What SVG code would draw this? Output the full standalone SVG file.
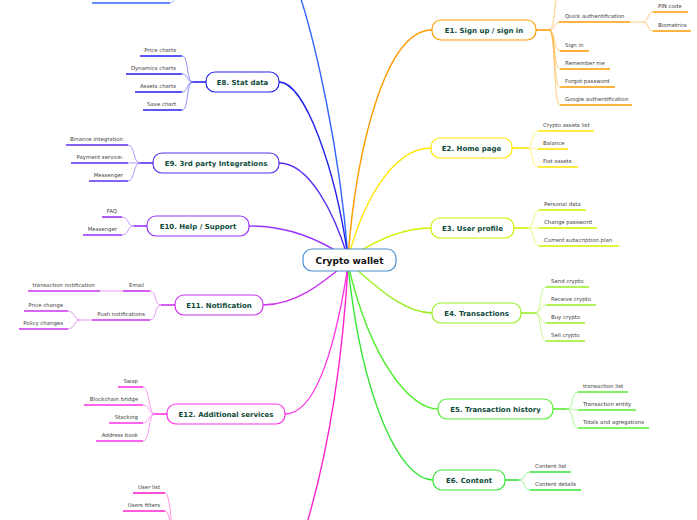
<svg xmlns="http://www.w3.org/2000/svg" width="697" height="520" viewBox="0 0 697 520">
<style>
.bg{fill:#ffffff}
.nr{fill:#ffffff;stroke-width:1.2}
.nt{font-family:"DejaVu Sans","Verdana",sans-serif;font-weight:bold;font-size:7px;fill:#0d4a3a;text-anchor:middle}
.ct{font-family:"DejaVu Sans","Verdana",sans-serif;font-size:5.4px;fill:#444444}
.ce{text-anchor:end}
.m{fill:none;stroke-width:1.4;stroke-linecap:round}
.s{fill:none;stroke-width:1.6}
.k{fill:none;stroke-width:0.9;stroke-opacity:0.55}
.u{fill:none;stroke-width:1.6}
</style>
<rect class="bg" x="0" y="0" width="697" height="520"/>
<g id="connectors">
  <path class="m" stroke="#3366ff" d="M348,258 C340,150 315,40 298,-10"/>
  <path class="m" stroke="#2222ee" d="M348,258 C336,170 305,82 279,82"/>
  <path class="m" stroke="#5b2ff0" d="M348,258 C335,215 310,163 279,163"/>
  <path class="m" stroke="#9933ff" d="M348,258 C320,240 290,226 249,226"/>
  <path class="m" stroke="#cc33ee" d="M348,262 C320,285 295,305 263,305"/>
  <path class="m" stroke="#ff33e6" d="M348,266 C338,330 320,414 285,414"/>
  <path class="m" stroke="#ff22cc" d="M348,266 C340,400 320,490 295,560"/>
  <path class="m" stroke="#ff9b00" d="M348,258 C356,150 385,30 432,30"/>
  <path class="m" stroke="#ffe600" d="M348,258 C368,185 400,148 431,148"/>
  <path class="m" stroke="#d4f000" d="M348,259 C378,238 405,228 431,228"/>
  <path class="m" stroke="#99ee22" d="M348,262 C380,290 405,313 432,313"/>
  <path class="m" stroke="#55ee33" d="M348,264 C370,360 410,409 438,409"/>
  <path class="m" stroke="#33e633" d="M348,266 C362,400 400,480 433,480"/>
</g>
<g id="center">
  <rect x="303" y="249" width="93" height="22" rx="9" fill="#ffffff" stroke="#4a90d0" stroke-width="1.2"/>
  <text x="349.5" y="263.5" font-family="DejaVu Sans, Verdana, sans-serif" font-weight="bold" font-size="9" fill="#111111" text-anchor="middle">Crypto wallet</text>
</g>
<g id="e1">
  <path class="s" stroke="#ff9b00" d="M536,30 H549"/>
  <g stroke="#ff9b00">
    <path class="k" d="M549,30 C556,30 553,-6 560,-6"/>
    <path class="k" d="M549,30 C556,30 553,22 560,22"/>
    <path class="k" d="M549,30 C556,30 553,51 560,51"/>
    <path class="k" d="M549,30 C556,30 553,69 560,69"/>
    <path class="k" d="M549,30 C556,30 553,87 560,87"/>
    <path class="k" d="M549,30 C556,30 553,105 560,105"/>
    <path class="k" d="M630,22 H643"/>
    <path class="k" d="M643,22 C649,22 647,12 653,12"/>
    <path class="k" d="M643,22 C649,22 647,31 653,31"/>
    <path class="u" d="M559,22 H630"/>
    <path class="u" d="M560,51 H589"/>
    <path class="u" d="M560,69 H610"/>
    <path class="u" d="M560,87 H615"/>
    <path class="u" d="M560,105 H632"/>
    <path class="u" d="M653,12 H688"/>
    <path class="u" d="M653,31 H691"/>
  </g>
  <rect class="nr" stroke="#ff9b00" x="432" y="20" width="104" height="20" rx="9"/>
  <text class="nt" x="484" y="32.5">E1. Sign up / sign in</text>
  <text class="ct" x="565" y="17.5">Quick authentification</text>
  <text class="ct" x="658" y="7.5">PIN code</text>
  <text class="ct" x="658" y="26.5">Biometrics</text>
  <text class="ct" x="565" y="46.5">Sign in</text>
  <text class="ct" x="565" y="64.5">Remember me</text>
  <text class="ct" x="565" y="82.5">Forgot password</text>
  <text class="ct" x="565" y="100.5">Google authentification</text>
</g>
<g id="e2">
  <path class="s" stroke="#ffe600" d="M512,148 H527"/>
  <g stroke="#ffe600">
    <path class="k" d="M527,148 C534,148 531,131 538,131"/>
    <path class="k" d="M527,148 C534,148 531,149 538,149"/>
    <path class="k" d="M527,148 C534,148 531,167 538,167"/>
    <path class="u" d="M538,131 H594"/>
    <path class="u" d="M538,149 H568"/>
    <path class="u" d="M538,167 H578"/>
  </g>
  <rect class="nr" stroke="#ffe600" x="431" y="138" width="81" height="20" rx="9"/>
  <text class="nt" x="471.5" y="150.5">E2. Home page</text>
  <text class="ct" x="543" y="126.5">Crypto assets list</text>
  <text class="ct" x="543" y="144.5">Balance</text>
  <text class="ct" x="543" y="162.5">Fiat assets</text>
</g>
<g id="e3">
  <path class="s" stroke="#d4f000" d="M514,228 H528"/>
  <g stroke="#d4f000">
    <path class="k" d="M528,228 C535,228 532,210 539,210"/>
    <path class="k" d="M528,228 H539"/>
    <path class="k" d="M528,228 C535,228 532,246 539,246"/>
    <path class="u" d="M539,210 H586"/>
    <path class="u" d="M539,228 H597"/>
    <path class="u" d="M539,246 H619"/>
  </g>
  <rect class="nr" stroke="#d4f000" x="431" y="218" width="83" height="20" rx="9"/>
  <text class="nt" x="472.5" y="230.5">E3. User profile</text>
  <text class="ct" x="544" y="205.5">Personal data</text>
  <text class="ct" x="544" y="223.5">Change password</text>
  <text class="ct" x="544" y="241.5">Current subscription plan</text>
</g>
<g id="e4">
  <path class="s" stroke="#99ee22" d="M521,313 H535"/>
  <g stroke="#99ee22">
    <path class="k" d="M535,313 C542,313 539,287 546,287"/>
    <path class="k" d="M535,313 C542,313 539,305 546,305"/>
    <path class="k" d="M535,313 C542,313 539,323 546,323"/>
    <path class="k" d="M535,313 C542,313 539,341 546,341"/>
    <path class="u" d="M546,287 H589"/>
    <path class="u" d="M546,305 H596"/>
    <path class="u" d="M546,323 H585"/>
    <path class="u" d="M546,341 H585"/>
  </g>
  <rect class="nr" stroke="#99ee22" x="432" y="303" width="89" height="20" rx="9"/>
  <text class="nt" x="476.5" y="315.5">E4. Transactions</text>
  <text class="ct" x="551" y="282.5">Send crypto</text>
  <text class="ct" x="551" y="300.5">Receive crypto</text>
  <text class="ct" x="551" y="318.5">Buy crypto</text>
  <text class="ct" x="551" y="336.5">Sell crypto</text>
</g>
<g id="e5">
  <path class="s" stroke="#55ee33" d="M553,409 H567"/>
  <g stroke="#55ee33">
    <path class="k" d="M567,409 C574,409 571,392 578,392"/>
    <path class="k" d="M567,409 C574,409 571,410 578,410"/>
    <path class="k" d="M567,409 C574,409 571,428 578,428"/>
    <path class="u" d="M578,392 H628"/>
    <path class="u" d="M578,410 H636"/>
    <path class="u" d="M578,428 H649"/>
  </g>
  <rect class="nr" stroke="#55ee33" x="438" y="399" width="115" height="20" rx="9"/>
  <text class="nt" x="495.5" y="411.5">E5. Transaction history</text>
  <text class="ct" x="583" y="387.5">transaction list</text>
  <text class="ct" x="583" y="405.5">Transaction entity</text>
  <text class="ct" x="583" y="423.5">Totals and agregations</text>
</g>
<g id="e6">
  <path class="s" stroke="#33e633" d="M505,480 H519"/>
  <g stroke="#33e633">
    <path class="k" d="M519,480 C526,480 523,472 530,472"/>
    <path class="k" d="M519,480 C526,480 523,490 530,490"/>
    <path class="u" d="M530,472 H571"/>
    <path class="u" d="M530,490 H581"/>
  </g>
  <rect class="nr" stroke="#33e633" x="433" y="470" width="72" height="20" rx="9"/>
  <text class="nt" x="469" y="482.5">E6. Content</text>
  <text class="ct" x="535" y="467.5">Content list</text>
  <text class="ct" x="535" y="485.5">Content details</text>
</g>
<g id="e7">
  <g stroke="#3366ff">
    <path class="k" d="M170,3 C176,3 174,-10 181,-14"/>
    <path class="u" d="M92,3 H170"/>
  </g>
</g>
<g id="e8">
  <path class="s" stroke="#2222ee" d="M206,82 H193"/>
  <g stroke="#2222ee">
    <path class="k" d="M193,82 C186,82 189,56 182,56"/>
    <path class="k" d="M193,82 C186,82 189,74 182,74"/>
    <path class="k" d="M193,82 C186,82 189,92 182,92"/>
    <path class="k" d="M193,82 C186,82 189,110 182,110"/>
    <path class="u" d="M140,56 H182"/>
    <path class="u" d="M126,74 H182"/>
    <path class="u" d="M135,92 H182"/>
    <path class="u" d="M143,110 H182"/>
  </g>
  <rect class="nr" stroke="#2222ee" x="206" y="72" width="73" height="20" rx="9"/>
  <text class="nt" x="242.5" y="84.5">E8. Stat data</text>
  <text class="ct ce" x="176" y="51.5">Price charts</text>
  <text class="ct ce" x="176" y="69.5">Dynamics charts</text>
  <text class="ct ce" x="176" y="87.5">Assets charts</text>
  <text class="ct ce" x="176" y="105.5">Save chart</text>
</g>
<g id="e9">
  <path class="s" stroke="#5b2ff0" d="M153,163 H140"/>
  <g stroke="#5b2ff0">
    <path class="k" d="M140,163 C133,163 135,145 128,145"/>
    <path class="k" d="M140,163 H128"/>
    <path class="k" d="M140,163 C133,163 135,181 128,181"/>
    <path class="u" d="M66,145 H128"/>
    <path class="u" d="M71,163 H128"/>
    <path class="u" d="M89,181 H128"/>
  </g>
  <rect class="nr" stroke="#5b2ff0" x="153" y="153" width="126" height="20" rx="9"/>
  <text class="nt" x="216" y="165.5">E9. 3rd party Integrations</text>
  <text class="ct ce" x="123" y="140.5">Binance integration</text>
  <text class="ct ce" x="123" y="158.5">Payment service:</text>
  <text class="ct ce" x="123" y="176.5">Messenger</text>
</g>
<g id="e10">
  <path class="s" stroke="#9933ff" d="M147,226 H134"/>
  <g stroke="#9933ff">
    <path class="k" d="M134,226 C127,226 129,217 122,217"/>
    <path class="k" d="M134,226 C127,226 129,235 122,235"/>
    <path class="u" d="M102,217 H122"/>
    <path class="u" d="M83,235 H122"/>
  </g>
  <rect class="nr" stroke="#9933ff" x="147" y="216" width="102" height="20" rx="9"/>
  <text class="nt" x="198" y="228.5">E10. Help / Support</text>
  <text class="ct ce" x="117" y="212.5">FAQ</text>
  <text class="ct ce" x="117" y="230.5">Messenger</text>
</g>
<g id="e11">
  <path class="s" stroke="#cc33ee" d="M175,305 H161"/>
  <g stroke="#cc33ee">
    <path class="k" d="M161,305 C154,305 157,291 150,291"/>
    <path class="k" d="M161,305 C154,305 157,320 150,320"/>
    <path class="k" d="M123,291 H100"/>
    <path class="k" d="M92,320 H80"/>
    <path class="k" d="M80,320 C74,320 75,311 68,311"/>
    <path class="k" d="M80,320 C74,320 75,329 68,329"/>
    <path class="u" d="M123,291 H150"/>
    <path class="u" d="M28,291 H100"/>
    <path class="u" d="M92,320 H150"/>
    <path class="u" d="M24,311 H68"/>
    <path class="u" d="M19,329 H68"/>
  </g>
  <rect class="nr" stroke="#cc33ee" x="175" y="295" width="88" height="20" rx="9"/>
  <text class="nt" x="219" y="307.5">E11. Notification</text>
  <text class="ct ce" x="144" y="286.5">Email</text>
  <text class="ct ce" x="95" y="286.5">transaction notification</text>
  <text class="ct ce" x="145" y="315.5">Push notifications</text>
  <text class="ct ce" x="63" y="306.5">Price change</text>
  <text class="ct ce" x="63" y="324.5">Policy changes</text>
</g>
<g id="e12">
  <path class="s" stroke="#ff33e6" d="M167,414 H155"/>
  <g stroke="#ff33e6">
    <path class="k" d="M155,414 C148,414 150,387 143,387"/>
    <path class="k" d="M155,414 C148,414 150,405 143,405"/>
    <path class="k" d="M155,414 C148,414 150,423 143,423"/>
    <path class="k" d="M155,414 C148,414 150,441 143,441"/>
    <path class="u" d="M118,387 H143"/>
    <path class="u" d="M84,405 H143"/>
    <path class="u" d="M109,423 H143"/>
    <path class="u" d="M96,441 H143"/>
  </g>
  <rect class="nr" stroke="#ff33e6" x="167" y="404" width="118" height="20" rx="9"/>
  <text class="nt" x="226" y="416.5">E12. Additional services</text>
  <text class="ct ce" x="138" y="382.5">Swap</text>
  <text class="ct ce" x="138" y="400.5">Blockchain bridge</text>
  <text class="ct ce" x="138" y="418.5">Stacking</text>
  <text class="ct ce" x="138" y="436.5">Address book</text>
</g>
<g id="e13">
  <g stroke="#ff22cc">
    <path class="k" d="M165,493 C172,493 170,545 178,550"/>
    <path class="k" d="M165,511 C172,511 170,545 178,550"/>
    <path class="u" d="M133,493 H165"/>
    <path class="u" d="M123,511 H165"/>
  </g>
  <text class="ct ce" x="160" y="488.5">User list</text>
  <text class="ct ce" x="160" y="506.5">Users filters</text>
</g>
</svg>
